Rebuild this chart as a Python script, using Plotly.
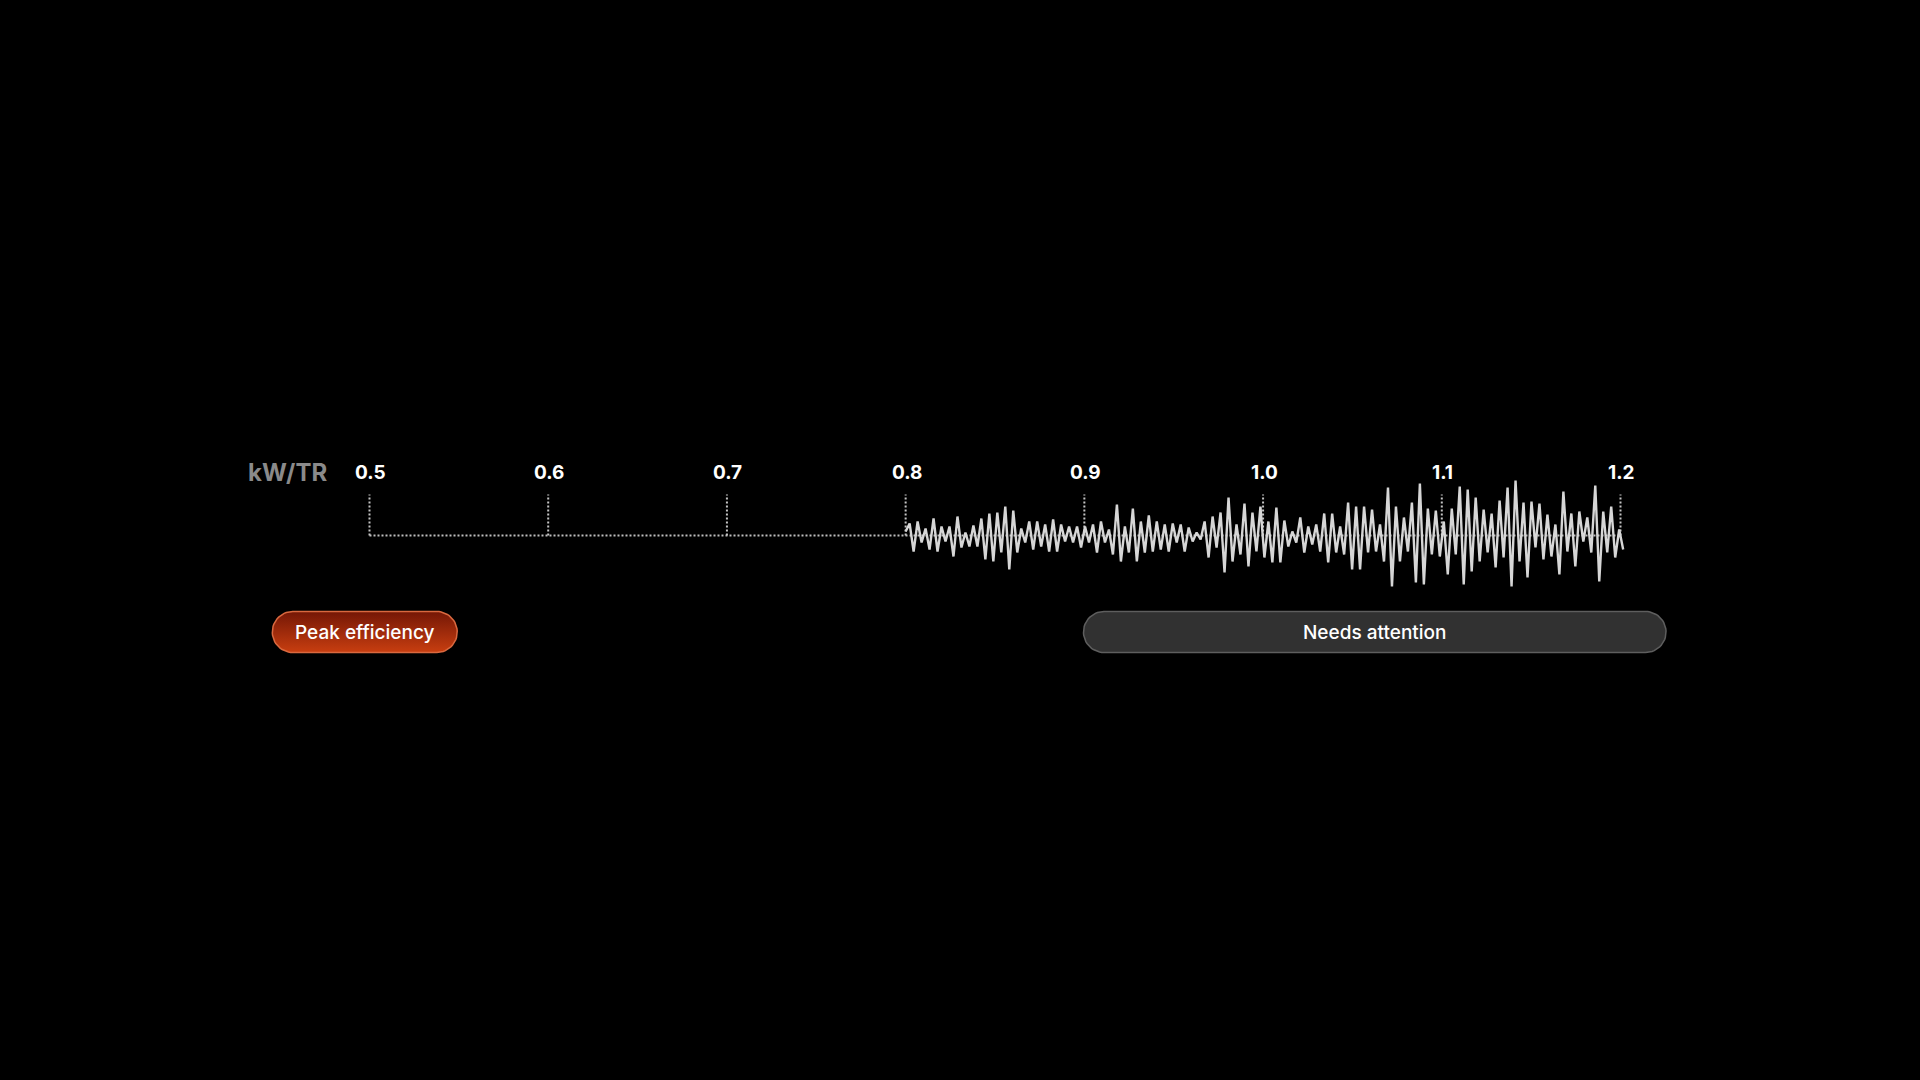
import numpy as np
import plotly.graph_objects as go


# axis ticks (kW/TR)
tick_vals = [0.5, 0.6, 0.7, 0.8, 0.9, 1.0, 1.1, 1.2]
tick_text = ['0.5', '0.6', '0.7', '0.8', '0.9', '1.0', '1.1', '1.2']

# waveform: one peak and one trough per cycle, 0.8 -> 1.2
wave_up = [12, 14, 7, 17, 9, 9, 19, 3, 10, 17, 22, 23, 29, 25, 7, 14, 14, 11, 16, 11, 9, 9,
           9, 11, 14, 6, 31, 9, 27, 14, 20, 14, 11, 12, 11, 8, 3, 14, 19, 23, 38, 11, 32, 23, 29, 14,
           28, 15, 4, 18, 9, 11, 22, 22, 9, 33, 29, 29, 26, 11, 48, 29, 18, 33, 52, 27, 25, 14, 27, 49,
           46, 38, 26, 22, 35, 48, 55, 33, 34, 32, 21, 11, 44, 22, 24, 18, 50, 24, 29, 6]
wave_down = [-16, -7, -14, -16, -6, -21, -12, -11, -11, -24, -26, -17, -34, -17, -7, -14, -11, -16, -16, -6, -7, -12,
             -7, -17, -7, -19, -26, -17, -26, -17, -16, -14, -16, -7, -16, -6, -4, -22, -12, -37, -26, -19, -31, -16, -22, -27,
             -27, -11, -7, -17, -9, -16, -27, -17, -19, -34, -34, -17, -16, -26, -51, -26, -16, -47, -49, -19, -21, -39, -19, -49,
             -36, -26, -17, -32, -22, -51, -26, -42, -12, -24, -21, -39, -16, -31, -6, -17, -46, -17, -22, -14]
wave_start = 0.8
wave_end = 1.2015

# status bands
bands = ['Peak efficiency', 'Needs attention']
band_lo = [0.4456, 0.8995]
band_hi = [0.5491, 1.2255]

# page geometry: x in kW/TR, y in pixels around the baseline
W, H = 1920, 1080
PX_PER_UNIT = (1620 - 369) / 0.7
X0 = 0.5 - 369.5 / PX_PER_UNIT
X1 = X0 + W / PX_PER_UNIT
BASE_PX = 535.5
Y0, Y1 = -(H - BASE_PX), BASE_PX

FONT = 'Inter'


def pill(lo, hi, y_mid, r):
    rx = r / PX_PER_UNIT
    t1 = np.linspace(-np.pi / 2, np.pi / 2, 30)
    t2 = np.linspace(np.pi / 2, 3 * np.pi / 2, 30)
    xs = np.concatenate([hi - rx + rx * np.cos(t1), lo + rx + rx * np.cos(t2)])
    ys = np.concatenate([y_mid + r * np.sin(t1), y_mid + r * np.sin(t2)])
    return np.append(xs, xs[0]), np.append(ys, ys[0])


fig = go.Figure()

# dotted baseline
fig.add_trace(go.Scatter(
    x=[tick_vals[0], tick_vals[-1]], y=[0, 0], mode='lines',
    line=dict(color='#bdbdbd', width=2, dash='2px,2px'), hoverinfo='skip'))

# dotted tick marks
tx, ty = [], []
for v in tick_vals:
    tx += [v, v, None]
    ty += [0, 41, None]
fig.add_trace(go.Scatter(
    x=tx, y=ty, mode='lines',
    line=dict(color='#c4c4c4', width=2, dash='2px,2px'), hoverinfo='skip'))

# waveform
wave_y = [4]
for u, d in zip(wave_up, wave_down):
    wave_y += [u, d]
wave_x = np.linspace(wave_start, wave_end, len(wave_y))
fig.add_trace(go.Scatter(
    x=wave_x, y=wave_y, mode='lines',
    line=dict(color='#d6d6d6', width=2.4), hoverinfo='skip'))

# pills
pill_mid, pill_r = -96.5, 20.5
px, py = pill(band_lo[0], band_hi[0], pill_mid, pill_r)
fig.add_trace(go.Scatter(
    x=px, y=py, mode='lines', fill='toself',
    fillgradient=dict(type='vertical', colorscale=[[0, '#c83e10'], [1, '#741706']]),
    line=dict(color='#d9683f', width=1.5), hoverinfo='skip'))
px, py = pill(band_lo[1], band_hi[1], pill_mid, pill_r)
fig.add_trace(go.Scatter(
    x=px, y=py, mode='lines', fill='toself', fillcolor='#313131',
    line=dict(color='#5e5e5e', width=1.5), hoverinfo='skip'))

for name, lo, hi in zip(bands, band_lo, band_hi):
    fig.add_annotation(x=(lo + hi) / 2, y=pill_mid, text=name, showarrow=False,
                       font=dict(family=FONT, size=19, color='#ffffff', weight=500),
                       xanchor='center', yanchor='middle')

# tick labels
for v, t in zip(tick_vals, tick_text):
    fig.add_annotation(x=v, y=63, text=t, showarrow=False, xshift=1,
                       font=dict(family=FONT, size=19, color='#ffffff', weight=700),
                       xanchor='center', yanchor='middle')

fig.add_annotation(x=tick_vals[0], y=63, text='kW/TR', showarrow=False, xshift=-41,
                   font=dict(family=FONT, size=24, color='#8a8a8a', weight=700),
                   xanchor='right', yanchor='middle')

fig.update_layout(
    width=W, height=H, autosize=False,
    margin=dict(l=0, r=0, t=0, b=0),
    paper_bgcolor='#000000', plot_bgcolor='#000000',
    showlegend=False,
    xaxis=dict(range=[X0, X1], visible=False, fixedrange=True),
    yaxis=dict(range=[Y0, Y1], visible=False, fixedrange=True),
)

fig.write_html("out.html", config={'displayModeBar': False},
               post_script="document.body.style.margin='0';")
